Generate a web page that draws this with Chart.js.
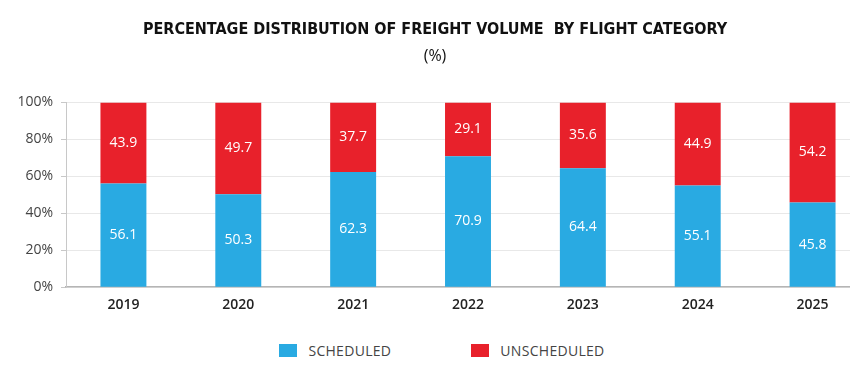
<!DOCTYPE html>
<html>
<head>
<meta charset="utf-8">
<script src="https://cdn.jsdelivr.net/npm/chart.js@4"></script>
<style>
    html, body { margin: 0; padding: 0; background: #fff; overflow: hidden; }
    #wrap { width: 884px; height: 392px; position: relative; }
    #box { width: 884px; height: 330px; }
    #legend { display: flex; justify-content: center; gap: 80px; padding-top: 11px;
              font-family: "Open Sans", sans-serif; font-size: 14px; color: #444; letter-spacing: 0.3px; }
    #legend span.item { display: flex; align-items: center; }
    #legend span.sw { display: inline-block; width: 18px; height: 13px; margin-right: 11px; }
</style>
</head>
<body>
<div id="wrap">
    <div id="box"><canvas id="chart"></canvas></div>
    <div id="legend"></div>
</div>
<script>
var years = ["2019", "2020", "2021", "2022", "2023", "2024", "2025"];
var scheduled = [56.1, 50.3, 62.3, 70.9, 64.4, 55.1, 45.8];
var unscheduled = [43.9, 49.7, 37.7, 29.1, 35.6, 44.9, 54.2];
var seriesNames = ["SCHEDULED", "UNSCHEDULED"];
var seriesColors = ["#29aae2", "#e8212b"];

// writes the value in the middle of each bar segment
var barLabels = {
    id: "barLabels",
    afterDatasetsDraw: function (chart) {
        var ctx = chart.ctx;
        ctx.save();
        ctx.font = "14px 'Open Sans', sans-serif";
        ctx.fillStyle = "#ffffff";
        ctx.textAlign = "center";
        ctx.textBaseline = "middle";
        chart.data.datasets.forEach(function (ds, i) {
            chart.getDatasetMeta(i).data.forEach(function (bar, j) {
                ctx.fillText(ds.data[j].toFixed(1), bar.x, (bar.y + bar.base) / 2);
            });
        });
        ctx.restore();
    }
};

var chart = new Chart(document.getElementById("chart"), {
    type: "bar",
    data: {
        labels: years,
        datasets: [
            { label: seriesNames[0], data: scheduled, backgroundColor: seriesColors[0] },
            { label: seriesNames[1], data: unscheduled, backgroundColor: seriesColors[1] }
        ]
    },
    plugins: [barLabels],
    options: {
        responsive: true,
        maintainAspectRatio: false,
        animation: false,
        layout: { padding: { left: 0, right: 14, top: 0, bottom: 16 } },
        datasets: { bar: { barPercentage: 0.4, categoryPercentage: 1.0 } },
        plugins: {
            legend: { display: false },
            tooltip: { enabled: false },
            title: {
                display: true,
                text: "PERCENTAGE DISTRIBUTION OF FREIGHT VOLUME  BY FLIGHT CATEGORY",
                color: "#111",
                font: { family: "'Liberation Sans Narrow', 'DejaVu Sans Condensed', sans-serif", size: 16, weight: "bold" },
                padding: { top: 20, bottom: 8 }
            },
            subtitle: {
                display: true,
                text: "(%)",
                color: "#111",
                font: { family: "'Open Sans', sans-serif", size: 16 },
                padding: { top: 0, bottom: 36 }
            }
        },
        scales: {
            x: {
                stacked: true,
                grid: { display: false },
                border: { display: true, color: "#b5b5b5", width: 1.5 },
                ticks: {
                    color: "#222",
                    padding: 1,
                    font: { family: "'Open Sans', sans-serif", size: 14, weight: "600" }
                }
            },
            y: {
                stacked: true,
                min: 0,
                max: 100,
                afterFit: function (scale) { scale.width = 66; },
                grid: { color: "#e8e8e8", tickLength: 5, tickColor: "#c8c8c8" },
                border: { display: true, color: "#c8c8c8" },
                ticks: {
                    stepSize: 20,
                    color: "#444",
                    padding: 8,
                    font: { family: "'Open Sans', sans-serif", size: 14 },
                    callback: function (v) { return v + "%"; }
                }
            }
        }
    }
});

// legend below the canvas, built from the datasets
var legendDiv = document.getElementById("legend");
chart.data.datasets.forEach(function (ds) {
    var item = document.createElement("span");
    item.className = "item";
    var sw = document.createElement("span");
    sw.className = "sw";
    sw.style.background = ds.backgroundColor;
    item.appendChild(sw);
    item.appendChild(document.createTextNode(ds.label));
    legendDiv.appendChild(item);
});
</script>
</body>
</html>
